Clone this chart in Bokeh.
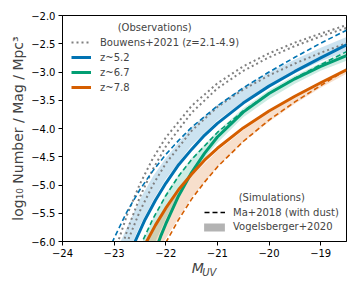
from bokeh.plotting import figure
from bokeh.models import (Range1d, FixedTicker, Legend, LegendItem, Label, LinearAxis)
from bokeh.embed import file_html
from bokeh.resources import INLINE

# ---------------- data ----------------
# Observations: z~5.2 / 6.7 / 7.8 (solid)
m_z52 = [-22.6, -22.4, -22.2, -22.0, -21.75, -21.5, -21.25, -21.0, -20.5, -20.0, -19.5, -19.0, -18.5]
phi_z52 = [-6.01, -5.61, -5.27, -4.97, -4.64, -4.37, -4.12, -3.91, -3.55, -3.25, -2.99, -2.75, -2.52]

m_z67 = [-22.2, -22.1, -22.0, -21.75, -21.5, -21.25, -21.0, -20.5, -20.0, -19.5, -19.0, -18.5]
phi_z67 = [-6.16, -5.91, -5.69, -5.19, -4.78, -4.44, -4.15, -3.71, -3.38, -3.12, -2.90, -2.71]

m_z78 = [-22.4, -22.2, -22.0, -21.75, -21.5, -21.25, -21.0, -20.5, -20.0, -19.5, -19.0, -18.5]
phi_z78 = [-6.05, -5.71, -5.41, -5.08, -4.81, -4.56, -4.35, -3.99, -3.69, -3.43, -3.19, -2.96]

# Bouwens+2021 (z=2.1-4.9), dotted grey
m_bouw = [-23.0, -22.75, -22.5, -22.25, -22.0, -21.5, -21.0, -20.5, -20.0, -19.5, -19.0, -18.5]
phi_bouw_a = [-6.21, -5.53, -4.98, -4.53, -4.16, -3.60, -3.20, -2.90, -2.67, -2.48, -2.32, -2.17]
phi_bouw_b = [-6.54, -5.81, -5.21, -4.72, -4.32, -3.72, -3.29, -2.98, -2.74, -2.54, -2.37, -2.22]
phi_bouw_c = [-6.71, -6.02, -5.46, -5.00, -4.62, -4.04, -3.62, -3.31, -3.06, -2.85, -2.66, -2.49]

# Ma+2018 (with dust), dashed
m_ma52 = [-23.1, -23.0, -22.75, -22.5, -22.25, -22.0, -21.75, -21.5, -21.0, -20.5, -20.0, -19.5, -19.0, -18.5]
phi_ma52 = [-6.15, -5.94, -5.47, -5.08, -4.75, -4.46, -4.21, -3.98, -3.60, -3.28, -3.00, -2.74, -2.49, -2.26]

m_ma67 = [-22.5, -22.25, -22.0, -21.75, -21.5, -21.0, -20.5, -20.0, -19.5, -19.0, -18.5]
phi_ma67 = [-6.09, -5.60, -5.19, -4.84, -4.55, -4.07, -3.69, -3.38, -3.11, -2.87, -2.64]

m_ma78 = [-22.0, -21.75, -21.5, -21.25, -21.0, -20.5, -20.0, -19.5, -19.0, -18.5]
phi_ma78 = [-6.02, -5.61, -5.25, -4.95, -4.68, -4.23, -3.85, -3.53, -3.24, -2.96]

# Vogelsberger+2020 bands
m_v52 = [-23.0, -22.9, -22.75, -22.5, -22.25, -22.0, -21.5, -21.0, -20.5, -20.0, -19.5, -19.0, -18.5]
v52_hi = [-6.30, -6.05, -5.75, -5.25, -4.85, -4.52, -3.98, -3.58, -3.27, -3.01, -2.78, -2.57, -2.38]
v52_lo = [-6.90, -6.60, -6.25, -5.72, -5.28, -4.90, -4.30, -3.86, -3.52, -3.25, -3.02, -2.81, -2.64]

m_v67 = [-22.6, -22.45, -22.25, -22.0, -21.75, -21.5, -21.0, -20.5, -20.0, -19.5, -19.0, -18.5]
v67_hi = [-6.30, -6.00, -5.60, -5.15, -4.82, -4.52, -4.05, -3.64, -3.32, -3.06, -2.84, -2.64]
v67_lo = [-6.90, -6.60, -6.10, -5.60, -5.15, -4.80, -4.25, -3.80, -3.48, -3.21, -2.98, -2.80]

m_v78 = [-22.4, -22.25, -22.0, -21.75, -21.5, -21.0, -20.5, -20.0, -19.5, -19.0, -18.5]
v78_hi = [-6.05, -5.80, -5.45, -5.12, -4.84, -4.40, -4.03, -3.72, -3.44, -3.19, -2.95]
v78_lo = [-6.50, -6.25, -5.95, -5.58, -5.22, -4.68, -4.24, -3.88, -3.56, -3.28, -3.03]

x_ticks = [-24, -23, -22, -21, -20, -19]
y_ticks = [-6.0, -5.5, -5.0, -4.5, -4.0, -3.5, -3.0, -2.5, -2.0]

# legend-only proxy (lies outside the visible ranges, so only its legend handle shows)
proxy_x = [-30.0, -29.0]
proxy_lo = [-10.0, -10.0]
proxy_hi = [-9.0, -9.0]

BLUE, GREEN, ORANGE = "#0173B2", "#029E73", "#D55E00"
FONT = "DejaVu Sans"
NB = "\u00a0"

# ---------------- figure ----------------
p = figure(width=352, height=284, x_range=Range1d(-24, -18.5), y_range=Range1d(-6, -2),
           output_backend="svg", toolbar_location=None,
           min_border_left=62, min_border_right=6, min_border_top=15, min_border_bottom=43)
p.xgrid.visible = False
p.ygrid.visible = False
p.outline_line_color = "black"
p.outline_line_alpha = 1.0
p.outline_line_width = 1
p.background_fill_color = "white"
p.border_fill_color = "white"

for ax in (p.xaxis[0], p.yaxis[0]):
    ax.axis_line_color = "black"
    ax.major_tick_line_color = "black"
    ax.minor_tick_line_color = None
    ax.major_tick_in = 0
    ax.major_tick_out = 4
    ax.major_label_standoff = 3
    ax.major_label_text_font_size = "10px"
    ax.major_label_text_font = FONT
    ax.major_label_text_color = "black"

p.xaxis.ticker = FixedTicker(ticks=x_ticks)
p.xaxis.major_label_overrides = {t: "\u2212%d" % abs(t) for t in x_ticks}
p.yaxis.ticker = FixedTicker(ticks=y_ticks)
p.yaxis.major_label_overrides = {t: "\u2212%.1f" % abs(t) for t in y_ticks}

p.yaxis.axis_label = "log\u2081\u2080 Number / Mag / Mpc\u00b3"
p.yaxis.axis_label_text_font_size = "14px"
p.yaxis.axis_label_text_font = FONT
p.yaxis.axis_label_text_font_style = "normal"
p.yaxis.axis_label_standoff = 2

# x-axis label  M_UV : "M" on the main axis, "UV" as subscript on a bare extra axis
p.xaxis.axis_label = "M" + NB * 3
p.xaxis.axis_label_text_font_size = "14px"
p.xaxis.axis_label_text_font = FONT
p.xaxis.axis_label_text_font_style = "italic"
p.xaxis.axis_label_standoff = 0

sub_axis = LinearAxis(ticker=FixedTicker(ticks=[]), axis_line_color=None,
                      major_tick_line_color=None, minor_tick_line_color=None,
                      major_tick_out=0, major_tick_in=0, major_label_standoff=0,
                      axis_label=NB * 3 + "UV", axis_label_text_font_size="10px",
                      axis_label_text_font=FONT, axis_label_text_font_style="italic",
                      axis_label_standoff=-12)
p.add_layout(sub_axis, "below")

# bands
p.varea(x=m_v52, y1=v52_lo, y2=v52_hi, fill_color=BLUE, fill_alpha=0.2)
p.varea(x=m_v67, y1=v67_lo, y2=v67_hi, fill_color=GREEN, fill_alpha=0.2)
p.varea(x=m_v78, y1=v78_lo, y2=v78_hi, fill_color=ORANGE, fill_alpha=0.2)

# Bouwens dotted
rb = p.line(m_bouw, phi_bouw_a, line_color="grey", line_width=2, line_dash="2 3")
p.line(m_bouw, phi_bouw_b, line_color="grey", line_width=2, line_dash="2 3")
p.line(m_bouw, phi_bouw_c, line_color="grey", line_width=2, line_dash="2 3")

# Ma dashed
p.line(m_ma52, phi_ma52, line_color=BLUE, line_width=1.6, line_dash="5 3")
p.line(m_ma67, phi_ma67, line_color=GREEN, line_width=1.6, line_dash="5 3")
p.line(m_ma78, phi_ma78, line_color=ORANGE, line_width=1.6, line_dash="5 3")

# solid observations
r52 = p.line(m_z52, phi_z52, line_color=BLUE, line_width=3)
r67 = p.line(m_z67, phi_z67, line_color=GREEN, line_width=3)
r78 = p.line(m_z78, phi_z78, line_color=ORANGE, line_width=3)

# proxy renderers for simulation legend handles
r_ma = p.line(x=proxy_x, y=proxy_lo, line_color="black", line_width=1.6, line_dash="5 3")
r_vg = p.varea(x=proxy_x, y1=proxy_lo, y2=proxy_hi, fill_color="grey", fill_alpha=0.6)

common = dict(padding=0, margin=0, border_line_alpha=0, background_fill_alpha=0,
              label_text_font_size="10px", label_text_font=FONT, spacing=1)

leg_obs = Legend(items=[LegendItem(label="Bouwens+2021 (z=2.1-4.9)", renderers=[rb]),
                        LegendItem(label="z~5.2", renderers=[r52]),
                        LegendItem(label="z~6.7", renderers=[r67]),
                        LegendItem(label="z~7.8", renderers=[r78])],
                 location=(9, 147), glyph_width=20, glyph_height=14, label_height=14,
                 label_standoff=9, **common)
p.add_layout(leg_obs)

leg_ma = Legend(items=[LegendItem(label="Ma+2018 (with dust)", renderers=[r_ma])],
                location=(142, 22), glyph_width=21, glyph_height=14, label_height=14,
                label_standoff=8, **common)
p.add_layout(leg_ma)

leg_vg = Legend(items=[LegendItem(label="Vogelsberger+2020", renderers=[r_vg])],
                location=(139, 9), glyph_width=26, glyph_height=10, label_height=10,
                label_standoff=6, **common)
p.add_layout(leg_vg)

p.add_layout(Label(x=-22.215, y=-2.218, text="(Observations)", text_align="center",
                   text_baseline="middle", text_font_size="10px", text_font=FONT))
p.add_layout(Label(x=-19.946, y=-5.214, text="(Simulations)", text_align="center",
                   text_baseline="middle", text_font_size="10px", text_font=FONT))

open("out.html", "w").write(file_html(p, INLINE))
